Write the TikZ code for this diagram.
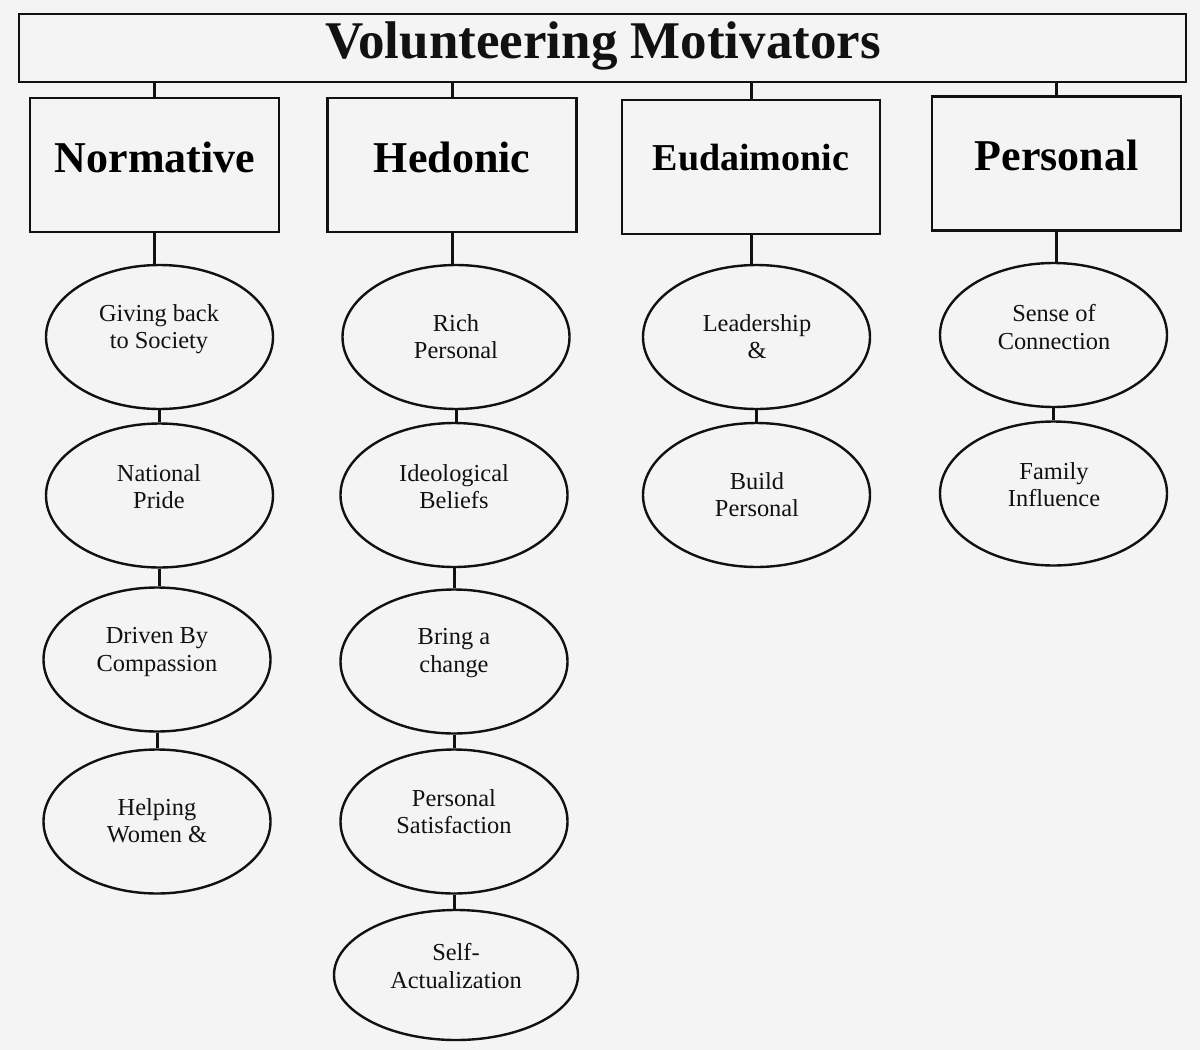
\documentclass[tikz,border=0pt]{standalone}
\usepackage{fontspec}
\setmainfont{Liberation Serif}
\usetikzlibrary{shapes.geometric}
\definecolor{bg}{HTML}{F4F4F4}
\definecolor{ink}{HTML}{111111}
\tikzset{
  titlebox/.style={draw=ink,line width=1.3pt,minimum width=583.5pt,minimum height=34pt,inner sep=0pt,font=\fontsize{26}{30}\selectfont\bfseries},
  catbox/.style={draw=ink,line width=1.3pt,minimum width=124.5pt,minimum height=67pt,inner sep=0pt},
  cattext/.style={font=\fontsize{22}{26}\selectfont\bfseries,inner sep=0pt},
  oval/.style={draw=ink,line width=1.2pt,ellipse,minimum width=113.5pt,minimum height=72pt,inner sep=0pt},
  ovaltext/.style={align=center,font=\fontsize{12.2}{13.6}\selectfont,inner sep=0pt,text=ink},
  link/.style={draw=ink,line width=1.5pt}
}
\begin{document}
\begin{tikzpicture}[x=0.5pt,y=-0.5pt]
\fill[bg] (0,0) rectangle (1200,1050);
\useasboundingbox (0,0) rectangle (1200,1050);
% title
\node[titlebox] (title) at (602.5,48) {};
\node[font=\fontsize{26.5}{30}\selectfont\bfseries,inner sep=0pt,text=ink] (titletext) at (603,46) {Volunteering Motivators};
% category boxes
\node[catbox] (norm) at (154.5,165) {};
\node[cattext] (normt) at (155,157) {Normative};
\node[catbox] (hed) at (452,165) {};
\node[cattext] (hedt) at (452,157) {Hedonic};
\node[catbox,minimum width=129pt] (eud) at (751,167) {};
\node[cattext,font=\fontsize{19}{22}\selectfont\bfseries] (eudt) at (751,158) {Eudaimonic};
\node[catbox] (pers) at (1056.5,163.5) {};
\node[cattext] (perst) at (1056.5,155) {Personal};
\foreach \c in {norm,hed,eud,pers}{\draw[link] (\c.north) -- (\c.north |- title.south);}
% normative column
\node[oval] (n1) at (159.5,337) {};
\node[ovaltext] (n1t) at (159,329) {Giving back\\to Society};
\node[oval] (n2) at (159.5,495.5) {};
\node[ovaltext] (n2t) at (159,487) {National\\Pride};
\node[oval] (n3) at (157,659.5) {};
\node[ovaltext] (n3t) at (157,652) {Driven By\\Compassion};
\node[oval] (n4) at (157,821.5) {};
\node[ovaltext] (n4t) at (157,821) {Helping\\Women \&};
% hedonic column
\node[oval] (h1) at (456,337) {};
\node[ovaltext] (h1t) at (456,337) {Rich\\Personal};
\node[oval] (h2) at (454,495) {};
\node[ovaltext] (h2t) at (454,487) {Ideological\\Beliefs};
\node[oval] (h3) at (454,661.5) {};
\node[ovaltext] (h3t) at (454,653) {Bring a\\change};
\node[oval] (h4) at (454,821.5) {};
\node[ovaltext] (h4t) at (454,812) {Personal\\Satisfaction};
\node[oval,minimum width=122pt,minimum height=65pt] (h5) at (456,975) {};
\node[ovaltext] (h5t) at (456,966) {Self-\\Actualization};
% eudaimonic column
\node[oval] (e1) at (756.5,337) {};
\node[ovaltext] (e1t) at (757,337) {Leadership\\\&};
\node[oval] (e2) at (756.5,495) {};
\node[ovaltext] (e2t) at (757,495) {Build\\Personal};
% personal column
\node[oval] (p1) at (1053.5,335) {};
\node[ovaltext] (p1t) at (1054,327) {Sense of\\Connection};
\node[oval] (p2) at (1053.5,493.5) {};
\node[ovaltext] (p2t) at (1054,485) {Family\\Influence};
% connectors
\draw[link] (norm.south) -- (norm.south |- n1.north);
\draw[link] (hed.south) -- (hed.south |- h1.north);
\draw[link] (eud.south) -- (eud.south |- e1.north);
\draw[link] (pers.south) -- (pers.south |- p1.north);
\draw[link] (n1.south) -- (n1.south |- n2.north);
\draw[link] (n2.south) -- (n2.south |- n3.north);
\draw[link] (n3.south) -- (n3.south |- n4.north);
\draw[link] (h1.south) -- (h1.south |- h2.north);
\draw[link] (h2.south) -- (h2.south |- h3.north);
\draw[link] (h3.south) -- (h3.south |- h4.north);
\draw[link] (h4.south) -- (h4.south |- h5.north);
\draw[link] (e1.south) -- (e1.south |- e2.north);
\draw[link] (p1.south) -- (p1.south |- p2.north);
\end{tikzpicture}
\end{document}
